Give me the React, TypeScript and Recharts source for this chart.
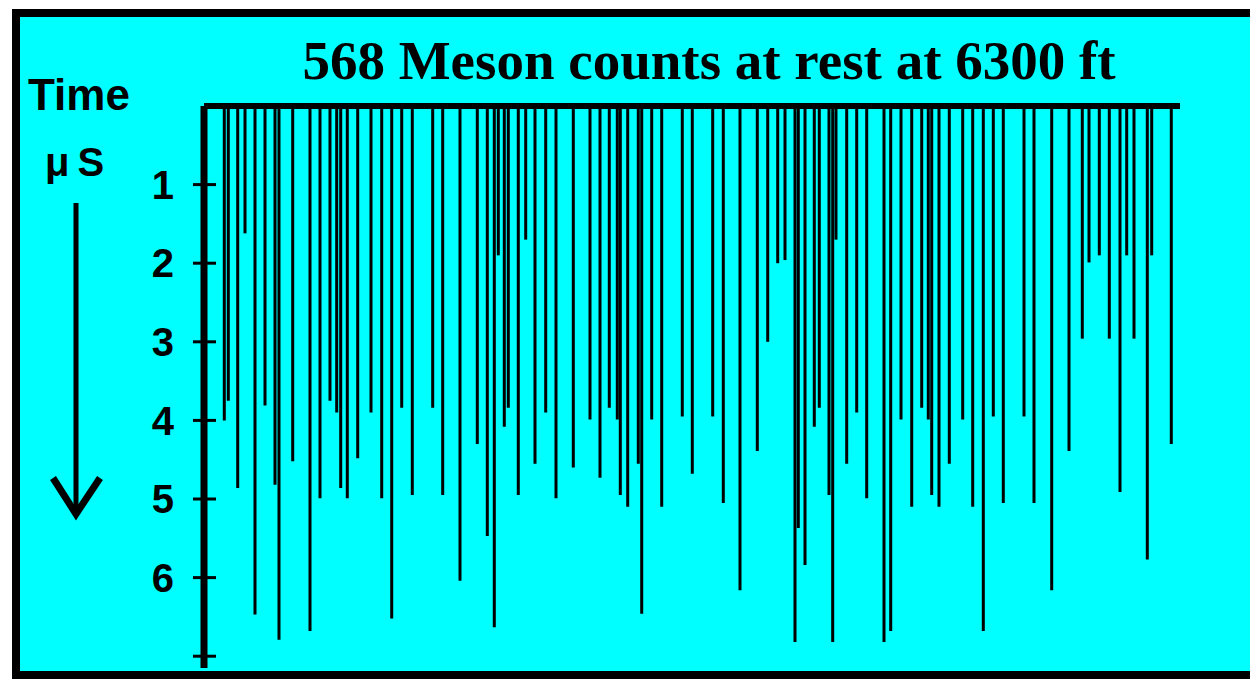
import React from 'react';
import { BarChart, Bar, XAxis, YAxis, ReferenceLine } from 'recharts';

const chartTitle = '568 Meson counts at rest at 6300 ft';
const axisTitleTop = 'Time';
const axisTitleUnit = 'μS';

// horizontal position of each recorded meson trace (arbitrary units along the film)
const mesonPosition = [
  20.3, 24.3, 33.7, 41, 51, 61, 71, 75, 88.7, 106, 116, 126, 132.7, 136.7, 143.3, 153.7, 167, 177.7, 187.7, 197.7,
  208.3, 228.7, 238.7, 256, 273.3, 283.3, 290.3, 294.3, 300.3, 304.3, 314.3, 321.7, 331, 341.7, 352, 369.3, 386, 396, 405.3,
  413.3, 416.3, 423.7, 434.3, 437.7, 447.7, 457.7, 478.3, 488.3, 508.7, 519.3, 536, 553.3, 563.7, 573.7, 581, 591, 594.3, 601, 610.3,
  615.3, 625, 628.7, 632, 642.7, 652.7, 662.7, 680, 686.7, 697, 707.7, 717.7, 724.3, 727.7, 735, 745.3, 758.7, 768.7, 779.3, 789.3, 799.3,
  820, 830, 847.7, 865, 878.3, 885, 895.3, 905.3, 916, 922.7, 930, 943.3, 947.7, 967.3,
];

// decay time in microseconds
const decayTime = [
  4.0, 3.75, 4.86, 1.62, 6.47, 3.81, 4.82, 6.79, 4.52, 6.68, 4.99, 3.75, 3.9, 4.86, 4.99, 4.48, 3.9, 4.99, 6.52, 3.84,
  4.95, 3.84, 4.95, 6.04, 4.3, 5.47, 6.63, 1.9, 4.08, 3.84, 4.95, 1.7, 4.55, 3.9, 4.99, 4.6, 3.99, 4.73, 3.84,
  3.99, 4.95, 5.1, 4.55, 6.46, 3.99, 5.1, 3.95, 4.68, 3.95, 5.05, 6.16, 4.39, 3.0, 2.0, 1.96, 6.82, 5.37, 5.84, 4.08,
  3.84, 4.95, 6.82, 1.7, 4.55, 3.9, 4.99, 6.82, 6.68, 3.99, 5.1, 3.84, 3.99, 4.95, 5.1, 4.55, 3.99, 5.1, 6.68, 3.95, 5.05,
  3.95, 5.05, 6.16, 4.39, 2.96, 1.99, 1.9, 2.96, 4.91, 1.9, 2.96, 5.77, 1.9, 4.3,
];

const yTickValues = [1, 2, 3, 4, 5, 6, 7];
const yTickLabels = ['1', '2', '3', '4', '5', '6', ''];

const data = mesonPosition.map((pos, i) => ({ pos, time: decayTime[i] }));

const CYAN = '#00FFFF';

export default function App() {
  return (
    <div style={{ position: 'absolute', left: 0, top: 0, width: 1250, height: 679, background: '#ffffff', overflow: 'hidden' }}>
      <div
        style={{
          position: 'absolute',
          left: 12,
          top: 9,
          width: 1238,
          height: 670,
          boxSizing: 'border-box',
          background: CYAN,
          borderLeft: '8px solid #000',
          borderTop: '8px solid #000',
          borderBottom: '8px solid #000',
        }}
      />
      <svg width={1250} height={679} style={{ position: 'absolute', left: 0, top: 0 }}>
        <text x={709} y={79} textAnchor="middle" fontFamily="'Liberation Serif', 'Times New Roman', serif" fontWeight="bold" fontSize={55} fill="#000">
          {chartTitle}
        </text>
        <text x={28} y={110} fontFamily="'Liberation Sans', Arial, sans-serif" fontWeight="bold" fontSize={44} fill="#000">
          {axisTitleTop}
        </text>
        <text x={45} y={176} fontFamily="'Liberation Sans', Arial, sans-serif" fontWeight="bold" fontSize={40} fill="#000" letterSpacing={8}>
          {axisTitleUnit}
        </text>
        <line x1={76} y1={203} x2={76} y2={512} stroke="#000" strokeWidth={5} />
        <polyline points="53,478 76,514 100,478" fill="none" stroke="#000" strokeWidth={7} strokeLinejoin="miter" />
      </svg>
      <div style={{ position: 'absolute', left: 0, top: 0 }}>
        <BarChart width={1250} height={679} data={data} margin={{ top: 106, right: 70, bottom: 11, left: 144 }}>
          <XAxis
            type="number"
            dataKey="pos"
            domain={[0, 976]}
            orientation="top"
            height={0}
            tick={false}
            tickLine={false}
            axisLine={false}
            allowDataOverflow
          />
          <YAxis
            yAxisId="main"
            type="number"
            domain={[0, 7.15]}
            reversed
            allowDataOverflow
            width={60}
            ticks={yTickValues}
            interval={0}
            tickFormatter={(v: number) => yTickLabels[yTickValues.indexOf(v)] ?? ''}
            tickSize={11}
            tickMargin={19}
            tickLine={{ stroke: '#000', strokeWidth: 3 }}
            axisLine={{ stroke: '#000', strokeWidth: 7 }}
            tick={{ fill: '#000', fontSize: 40, fontWeight: 'bold', fontFamily: "'Liberation Sans', Arial, sans-serif" }}
          />
          <YAxis
            yAxisId="inner"
            type="number"
            domain={[0, 7.15]}
            reversed
            allowDataOverflow
            mirror
            width={60}
            ticks={yTickValues}
            interval={0}
            tickFormatter={() => ''}
            tickSize={12}
            tickLine={{ stroke: '#000', strokeWidth: 3 }}
            axisLine={false}
          />
          <Bar yAxisId="main" dataKey="time" fill="#000" barSize={3} isAnimationActive={false} />
          <ReferenceLine yAxisId="main" y={0} stroke="#000" strokeWidth={6} ifOverflow="visible" />
        </BarChart>
      </div>
    </div>
  );
}
